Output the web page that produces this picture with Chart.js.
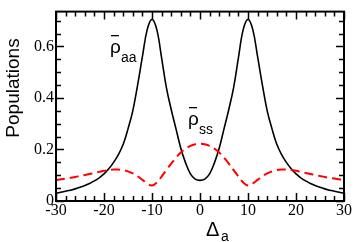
<!DOCTYPE html>
<html>
<head>
<meta charset="utf-8">
<script src="https://cdn.jsdelivr.net/npm/chart.js@4.4.0/dist/chart.umd.min.js"></script>
<style>
  html, body { margin: 0; padding: 0; background: #fff; }
  #wrap { width: 354px; height: 242px; }
</style>
</head>
<body>
<div id="wrap"><canvas id="chart"></canvas></div>
<script>
// detuning values (x axis)
const DELTA = [-30, -29, -28, -27, -26, -25, -24, -23, -22, -21, -20, -19, -18, -17, -16, -15,
  -14, -13, -12, -11, -10, -9, -8, -7, -6, -5, -4, -3, -2, -1, 0,
  1, 2, 3, 4, 5, 6, 7, 8, 9, 10, 11, 12, 13, 14, 15,
  16, 17, 18, 19, 20, 21, 22, 23, 24, 25, 26, 27, 28, 29, 30];

// rho_aa (black solid)
const RHO_AA = [0.030, 0.034, 0.038, 0.042, 0.047, 0.053, 0.060, 0.068, 0.078, 0.090, 0.105, 0.125, 0.150, 0.180, 0.220, 0.280,
  0.350, 0.450, 0.560, 0.665, 0.705, 0.665, 0.555, 0.440, 0.355, 0.280, 0.205, 0.148, 0.105, 0.085, 0.080,
  0.085, 0.105, 0.148, 0.205, 0.280, 0.355, 0.440, 0.555, 0.665, 0.705, 0.665, 0.560, 0.450, 0.350, 0.280,
  0.220, 0.180, 0.150, 0.125, 0.105, 0.090, 0.078, 0.068, 0.060, 0.053, 0.047, 0.042, 0.038, 0.034, 0.030];

// rho_ss (red dashed)
const RHO_SS = [0.081, 0.084, 0.087, 0.090, 0.093, 0.097, 0.101, 0.105, 0.109, 0.113, 0.117, 0.120, 0.122, 0.122, 0.120, 0.115,
  0.107, 0.096, 0.082, 0.068, 0.060, 0.072, 0.095, 0.120, 0.145, 0.168, 0.188, 0.203, 0.214, 0.220, 0.222,
  0.220, 0.214, 0.203, 0.188, 0.168, 0.145, 0.120, 0.095, 0.072, 0.060, 0.068, 0.082, 0.096, 0.107, 0.115,
  0.120, 0.122, 0.122, 0.120, 0.117, 0.113, 0.109, 0.105, 0.101, 0.097, 0.093, 0.090, 0.087, 0.084, 0.081];

const X_TICKS = [-30, -20, -10, 0, 10, 20, 30];
const Y_TICKS = [0, 0.2, 0.4, 0.6];
const Y_TICK_LABELS = ["0", "0.2", "0.4", "0.6"];

const X_MIN = -30, X_MAX = 30, Y_MIN = 0, Y_MAX = 0.735;
const X_MINOR = 2, Y_MINOR = 0.05;

const SERIF = "Liberation Serif";
const SANS = "'Liberation Sans', Arial, sans-serif";

const toPoints = (ys) => DELTA.map((x, i) => ({ x, y: ys[i] }));

// frame, inward ticks, axis titles and curve labels
const decorations = {
  id: "decorations",
  afterDraw(chart) {
    const { ctx, chartArea: a, scales: { x, y } } = chart;
    ctx.save();
    ctx.strokeStyle = "#000";
    ctx.lineWidth = 2;
    ctx.strokeRect(a.left, a.top, a.right - a.left, a.bottom - a.top);

    ctx.lineWidth = 1.5;
    ctx.beginPath();
    for (let v = X_MIN; v <= X_MAX + 1e-9; v += X_MINOR) {
      const px = Math.round(x.getPixelForValue(v)) + 0.5;
      const len = Math.abs(v % 10) < 1e-9 ? 8 : 5;
      ctx.moveTo(px, a.bottom); ctx.lineTo(px, a.bottom - len);
      ctx.moveTo(px, a.top); ctx.lineTo(px, a.top + len);
    }
    for (let i = 0; i * Y_MINOR <= Y_MAX + 1e-9; i++) {
      const v = i * Y_MINOR;
      const py = Math.round(y.getPixelForValue(v)) + 0.5;
      const len = i % 4 === 0 ? 8 : 5;
      ctx.moveTo(a.left, py); ctx.lineTo(a.left + len, py);
      ctx.moveTo(a.right, py); ctx.lineTo(a.right - len, py);
    }
    ctx.stroke();

    ctx.fillStyle = "#000";
    // y title
    ctx.save();
    ctx.translate(14, 88);
    ctx.rotate(-Math.PI / 2);
    ctx.font = "19px " + SANS;
    ctx.textAlign = "center";
    ctx.textBaseline = "middle";
    ctx.fillText("Populations", 0, 0);
    ctx.restore();

    // x title with subscript
    ctx.textAlign = "left";
    ctx.textBaseline = "alphabetic";
    ctx.font = "20px " + SANS;
    ctx.fillText("Δ", 206, 236);
    ctx.font = "14px " + SANS;
    ctx.fillText("a", 221, 241);

    // curve labels
    const label = (px, py, sub) => {
      ctx.font = "19px " + SANS;
      ctx.fillText("ρ", px, py);
      ctx.fillRect(px + 1, py - 18, 8, 1.3);
      ctx.font = "14px " + SANS;
      ctx.fillText(sub, px + 11, py + 9);
    };
    label(110, 53, "aa");
    label(188, 125, "ss");
    ctx.restore();
  }
};

new Chart(document.getElementById("chart"), {
  type: "line",
  data: {
    datasets: [
      {
        label: "rho_ss",
        data: toPoints(RHO_SS),
        borderColor: "#ff0000",
        borderWidth: 2,
        borderDash: [9, 5],
        pointRadius: 0,
        tension: 0.4,
        fill: false
      },
      {
        label: "rho_aa",
        data: toPoints(RHO_AA),
        borderColor: "#000000",
        borderWidth: 1.6,
        pointRadius: 0,
        tension: 0.4,
        fill: false
      }
    ]
  },
  options: {
    responsive: true,
    maintainAspectRatio: false,
    animation: false,
    layout: { padding: { top: 4, right: 10, left: 0, bottom: 0 } },
    plugins: { legend: { display: false }, tooltip: { enabled: false } },
    scales: {
      x: {
        type: "linear",
        min: X_MIN,
        max: X_MAX,
        afterBuildTicks: (s) => { s.ticks = X_TICKS.map((v) => ({ value: v })); },
        afterFit: (s) => { s.height = 41; },
        grid: { display: false, drawTicks: false },
        border: { display: false },
        ticks: {
          color: "#000",
          padding: 0,
          maxRotation: 0,
          autoSkip: false,
          font: { family: SERIF, size: 16 },
          callback: (v) => String(v)
        }
      },
      y: {
        type: "linear",
        min: Y_MIN,
        max: Y_MAX,
        afterBuildTicks: (s) => { s.ticks = Y_TICKS.map((v) => ({ value: v })); },
        afterFit: (s) => { s.width = 56; },
        grid: { display: false, drawTicks: false },
        border: { display: false },
        ticks: {
          color: "#000",
          padding: 2,
          autoSkip: false,
          font: { family: SERIF, size: 16 },
          callback: (v) => Y_TICK_LABELS[Y_TICKS.indexOf(v)] ?? ""
        }
      }
    }
  },
  plugins: [decorations]
});
</script>
</body>
</html>
